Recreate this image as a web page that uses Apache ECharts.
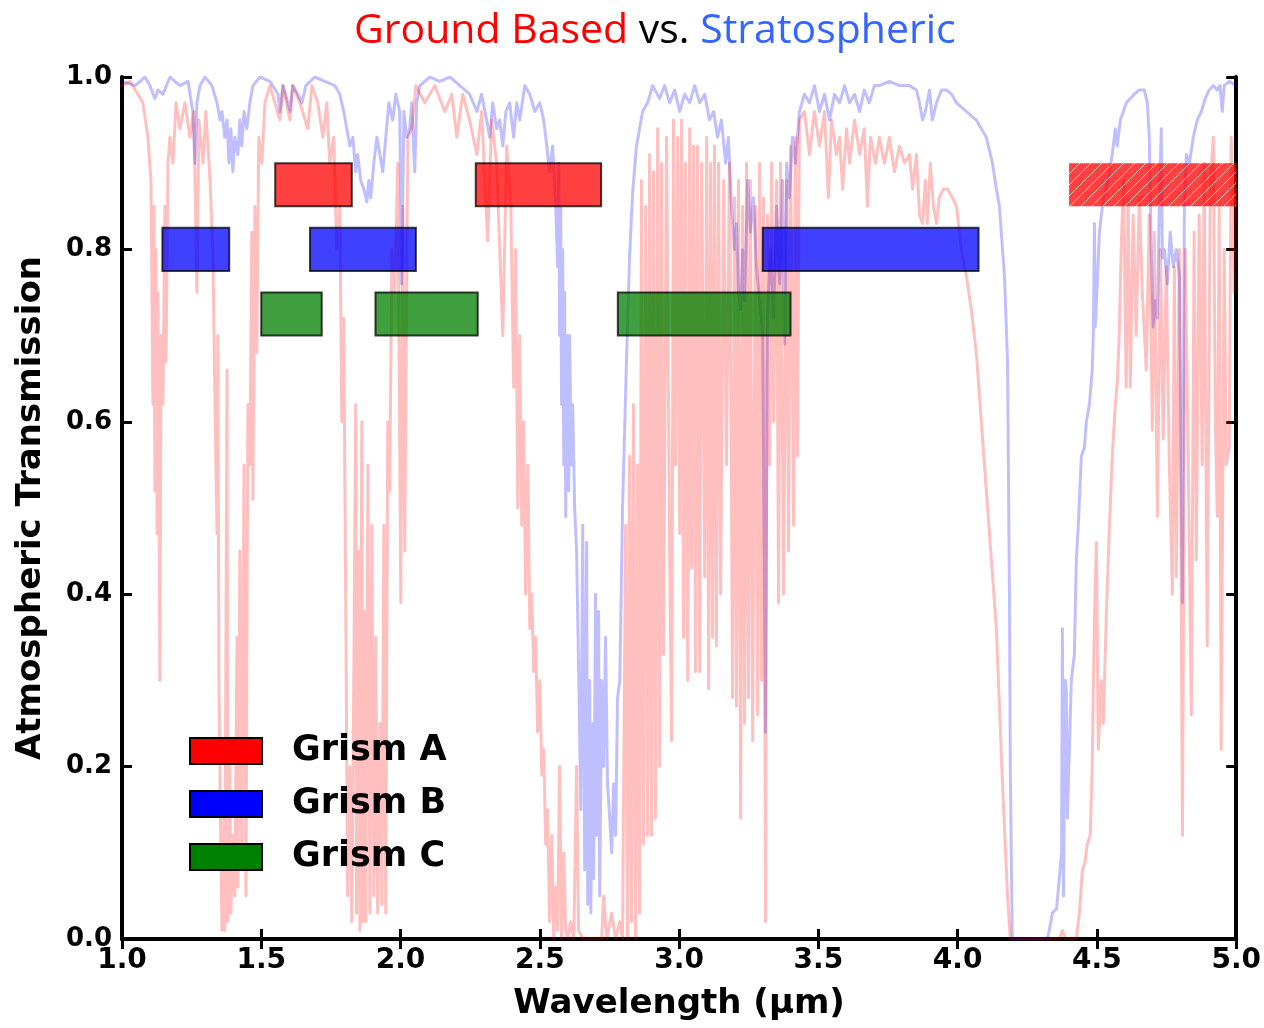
<!DOCTYPE html>
<html>
<head>
<meta charset="utf-8">
<title>Ground Based vs. Stratospheric</title>
<script src="https://cdn.jsdelivr.net/npm/echarts@6/dist/echarts.min.js"></script>
<style>
  html, body { margin: 0; padding: 0; background: #fff; }
  #chart { width: 1264px; height: 1028px; }
</style>
</head>
<body>
<div id="chart"></div>
<script>
// wavelength (um), transmission
const groundPoints = [
  [1.000,0.99],[1.029,0.995],[1.057,0.98],[1.075,0.97],[1.093,0.93],[1.104,0.88],[1.111,0.62],[1.115,0.85],
  [1.118,0.52],[1.122,0.80],[1.126,0.47],[1.129,0.75],[1.136,0.30],[1.140,0.70],[1.147,0.62],[1.154,0.85],
  [1.158,0.67],[1.165,0.90],[1.172,0.93],[1.183,0.90],[1.194,0.97],[1.208,0.94],[1.226,0.97],[1.244,0.93],
  [1.258,0.96],[1.269,0.75],[1.276,0.95],[1.291,0.90],[1.301,0.96],[1.316,0.88],[1.326,0.80],[1.334,0.62],
  [1.341,0.47],[1.344,0.70],[1.348,0.30],[1.355,0.10],[1.359,0.01],[1.366,0.15],[1.369,0.01],[1.377,0.66],
  [1.380,0.02],[1.387,0.20],[1.391,0.03],[1.398,0.12],[1.405,0.05],[1.413,0.35],[1.416,0.06],[1.423,0.45],
  [1.430,0.09],[1.438,0.55],[1.445,0.05],[1.452,0.62],[1.459,0.55],[1.466,0.82],[1.470,0.51],[1.477,0.85],
  [1.484,0.68],[1.491,0.93],[1.502,0.90],[1.513,0.97],[1.531,0.99],[1.549,0.97],[1.567,0.95],[1.578,0.99],
  [1.603,0.95],[1.613,0.99],[1.639,0.97],[1.667,0.94],[1.682,0.99],[1.703,0.97],[1.721,0.93],[1.735,0.97],
  [1.746,0.90],[1.760,0.93],[1.771,0.80],[1.782,0.85],[1.789,0.60],[1.796,0.72],[1.803,0.40],[1.810,0.05],
  [1.818,0.20],[1.825,0.02],[1.832,0.30],[1.839,0.62],[1.842,0.03],[1.850,0.45],[1.854,0.01],[1.861,0.60],
  [1.864,0.02],[1.872,0.38],[1.875,0.02],[1.883,0.55],[1.890,0.03],[1.897,0.48],[1.904,0.05],[1.911,0.35],
  [1.918,0.03],[1.926,0.25],[1.933,0.04],[1.940,0.48],[1.947,0.03],[1.954,0.60],[1.961,0.52],[1.969,0.80],
  [1.979,0.75],[1.990,0.90],[2.001,0.39],[2.008,0.85],[2.015,0.45],[2.026,0.93],[2.040,0.94],[2.055,0.99],
  [2.087,0.97],[2.123,0.99],[2.159,0.96],[2.184,0.98],[2.202,0.93],[2.223,0.98],[2.248,0.95],[2.274,0.91],
  [2.291,0.96],[2.313,0.81],[2.327,0.95],[2.345,0.90],[2.367,0.70],[2.381,0.92],[2.396,0.85],[2.406,0.64],
  [2.413,0.80],[2.421,0.50],[2.428,0.70],[2.435,0.48],[2.442,0.60],[2.449,0.40],[2.457,0.55],[2.464,0.36],
  [2.471,0.40],[2.478,0.31],[2.485,0.35],[2.492,0.24],[2.500,0.30],[2.507,0.19],[2.514,0.22],[2.521,0.11],
  [2.528,0.15],[2.535,0.02],[2.543,0.12],[2.550,0.00],[2.557,0.06],[2.564,0.01],[2.571,0.20],[2.578,0.00],
  [2.586,0.10],[2.593,0.01],[2.600,0.00],[2.611,0.02],[2.622,0.00],[2.632,0.20],[2.639,0.01],[2.654,0.00],
  [2.722,0.00],[2.729,0.05],[2.740,0.00],[2.758,0.03],[2.772,0.00],[2.787,0.02],[2.797,0.00],[2.808,0.48],
  [2.815,0.00],[2.822,0.56],[2.829,0.02],[2.836,0.62],[2.844,0.00],[2.851,0.55],[2.858,0.03],[2.865,0.88],
  [2.872,0.11],[2.880,0.85],[2.887,0.12],[2.894,0.91],[2.901,0.12],[2.908,0.89],[2.915,0.14],[2.923,0.94],
  [2.930,0.20],[2.937,0.90],[2.944,0.33],[2.955,0.93],[2.966,0.45],[2.973,0.23],[2.980,0.95],[2.987,0.55],
  [2.995,0.93],[3.002,0.47],[3.009,0.95],[3.016,0.35],[3.023,0.90],[3.031,0.30],[3.038,0.94],[3.045,0.43],
  [3.052,0.92],[3.059,0.31],[3.066,0.92],[3.074,0.31],[3.081,0.90],[3.092,0.42],[3.099,0.93],[3.106,0.29],
  [3.113,0.90],[3.120,0.35],[3.127,0.92],[3.134,0.34],[3.142,0.90],[3.149,0.40],[3.160,0.88],[3.170,0.55],
  [3.181,0.90],[3.192,0.28],[3.199,0.86],[3.206,0.27],[3.213,0.88],[3.221,0.14],[3.228,0.85],[3.235,0.25],
  [3.242,0.90],[3.249,0.28],[3.256,0.88],[3.264,0.23],[3.274,0.85],[3.282,0.26],[3.289,0.90],[3.296,0.30],
  [3.303,0.86],[3.310,0.02],[3.317,0.84],[3.325,0.55],[3.332,0.90],[3.339,0.60],[3.350,0.88],[3.357,0.39],
  [3.364,0.90],[3.375,0.40],[3.386,0.88],[3.393,0.45],[3.400,0.92],[3.411,0.48],[3.418,0.93],[3.425,0.56],
  [3.432,0.95],[3.450,0.96],[3.468,0.91],[3.486,0.96],[3.504,0.92],[3.522,0.96],[3.536,0.86],[3.547,0.95],
  [3.565,0.91],[3.576,0.93],[3.587,0.87],[3.601,0.94],[3.612,0.90],[3.630,0.95],[3.648,0.91],[3.665,0.94],
  [3.676,0.85],[3.687,0.93],[3.705,0.90],[3.719,0.93],[3.737,0.90],[3.755,0.93],[3.773,0.89],[3.791,0.92],
  [3.809,0.90],[3.827,0.91],[3.838,0.87],[3.852,0.91],[3.863,0.84],[3.874,0.83],[3.884,0.88],[3.891,0.83],
  [3.902,0.90],[3.913,0.85],[3.924,0.83],[3.934,0.86],[3.949,0.87],[3.963,0.87],[3.981,0.86],[3.996,0.85],
  [4.013,0.80],[4.031,0.77],[4.049,0.73],[4.067,0.68],[4.085,0.60],[4.103,0.52],[4.121,0.44],[4.139,0.36],
  [4.161,0.18],[4.179,0.05],[4.189,0.00],[4.365,0.00],[4.376,0.01],[4.387,0.00],[4.426,0.00],[4.437,0.03],
  [4.448,0.08],[4.458,0.09],[4.465,0.11],[4.476,0.12],[4.483,0.20],[4.491,0.37],[4.498,0.46],[4.505,0.22],
  [4.516,0.30],[4.523,0.25],[4.534,0.38],[4.545,0.48],[4.555,0.56],[4.566,0.62],[4.573,0.645],[4.580,0.70],
  [4.587,0.80],[4.595,0.88],[4.605,0.64],[4.612,0.86],[4.620,0.64],[4.630,0.84],[4.641,0.70],[4.652,0.86],
  [4.663,0.75],[4.677,0.66],[4.688,0.84],[4.699,0.59],[4.706,0.82],[4.717,0.49],[4.728,0.80],[4.738,0.58],
  [4.749,0.78],[4.760,0.55],[4.771,0.40],[4.778,0.78],[4.785,0.42],[4.796,0.80],[4.807,0.12],[4.817,0.80],
  [4.828,0.55],[4.839,0.26],[4.849,0.82],[4.857,0.44],[4.867,0.84],[4.878,0.55],[4.885,0.90],[4.896,0.34],
  [4.907,0.88],[4.918,0.93],[4.925,0.60],[4.932,0.49],[4.939,0.85],[4.946,0.22],[4.957,0.80],[4.964,0.55],
  [4.975,0.57],[4.982,0.93],[4.993,0.75],[5.000,0.90]
];

const stratPoints = [
  [1.000,0.995],[1.047,0.99],[1.083,1.0],[1.100,0.99],[1.118,0.975],[1.129,0.985],[1.147,0.98],[1.172,1.0],
  [1.208,0.99],[1.237,0.995],[1.254,0.96],[1.262,0.90],[1.269,0.97],[1.280,0.99],[1.298,1.0],[1.323,0.99],
  [1.341,0.97],[1.352,0.95],[1.359,0.96],[1.369,0.93],[1.377,0.95],[1.384,0.90],[1.391,0.94],[1.398,0.89],
  [1.405,0.93],[1.416,0.91],[1.423,0.95],[1.430,0.92],[1.438,0.96],[1.448,0.94],[1.459,0.97],[1.470,0.99],
  [1.495,1.0],[1.531,0.995],[1.560,0.98],[1.567,0.96],[1.578,0.99],[1.596,0.97],[1.603,0.96],[1.613,0.99],
  [1.631,0.98],[1.646,0.97],[1.660,0.99],[1.692,1.0],[1.728,0.995],[1.764,0.99],[1.782,0.98],[1.796,0.96],
  [1.807,0.94],[1.818,0.92],[1.829,0.93],[1.839,0.89],[1.846,0.91],[1.857,0.88],[1.868,0.87],[1.879,0.855],
  [1.886,0.88],[1.893,0.86],[1.904,0.90],[1.915,0.93],[1.926,0.91],[1.936,0.89],[1.947,0.93],[1.958,0.97],
  [1.972,0.95],[1.983,0.98],[1.997,0.96],[2.004,0.76],[2.012,0.96],[2.022,0.93],[2.033,0.94],[2.040,0.97],
  [2.051,0.89],[2.058,0.97],[2.069,0.99],[2.105,1.0],[2.141,0.995],[2.177,1.0],[2.213,0.99],[2.248,0.98],
  [2.274,0.96],[2.291,0.98],[2.309,0.95],[2.320,0.93],[2.331,0.97],[2.345,0.94],[2.356,0.95],[2.367,0.92],
  [2.378,0.96],[2.392,0.97],[2.406,0.93],[2.417,0.97],[2.428,0.95],[2.446,0.99],[2.464,0.98],[2.482,0.96],
  [2.500,0.97],[2.514,0.95],[2.525,0.92],[2.535,0.89],[2.546,0.92],[2.557,0.85],[2.564,0.78],[2.568,0.90],
  [2.571,0.70],[2.575,0.85],[2.578,0.62],[2.582,0.80],[2.586,0.55],[2.589,0.75],[2.593,0.49],[2.597,0.70],
  [2.600,0.62],[2.604,0.52],[2.607,0.70],[2.611,0.60],[2.614,0.55],[2.618,0.62],[2.625,0.50],[2.632,0.45],
  [2.640,0.30],[2.647,0.15],[2.654,0.48],[2.661,0.08],[2.668,0.46],[2.672,0.04],[2.679,0.30],[2.683,0.03],
  [2.690,0.25],[2.693,0.07],[2.700,0.40],[2.704,0.12],[2.711,0.38],[2.715,0.05],[2.722,0.30],[2.729,0.20],
  [2.736,0.35],[2.743,0.18],[2.751,0.14],[2.758,0.10],[2.765,0.18],[2.772,0.12],[2.779,0.28],[2.787,0.30],
  [2.797,0.50],[2.811,0.67],[2.822,0.79],
  [2.833,0.865],[2.847,0.92],[2.869,0.96],[2.887,0.97],[2.905,0.99],[2.930,0.975],[2.948,0.99],[2.966,0.97],
  [2.984,0.985],[3.002,0.96],[3.020,0.98],[3.038,0.97],[3.056,0.99],[3.074,0.97],[3.092,0.98],[3.109,0.95],
  [3.124,0.96],[3.138,0.93],[3.152,0.95],[3.167,0.90],[3.177,0.93],[3.188,0.85],[3.199,0.80],[3.206,0.83],
  [3.213,0.75],[3.221,0.73],[3.228,0.80],[3.235,0.74],[3.246,0.88],[3.256,0.82],[3.267,0.86],[3.278,0.78],
  [3.289,0.74],[3.300,0.70],[3.310,0.24],[3.317,0.72],[3.328,0.80],[3.339,0.72],[3.350,0.85],[3.361,0.76],
  [3.371,0.88],[3.379,0.69],[3.386,0.90],[3.396,0.86],[3.407,0.93],[3.418,0.90],[3.432,0.96],[3.450,0.98],
  [3.468,0.97],[3.486,0.99],[3.504,0.96],[3.522,0.98],[3.540,0.95],[3.558,0.98],[3.576,0.97],[3.594,0.99],
  [3.612,0.97],[3.630,0.98],[3.648,0.96],[3.665,0.985],[3.683,0.97],[3.701,0.99],[3.719,0.99],[3.755,0.995],
  [3.791,0.99],[3.827,0.99],[3.852,0.985],[3.863,0.97],[3.874,0.95],[3.884,0.96],[3.899,0.985],[3.909,0.95],
  [3.924,0.97],[3.942,0.985],[3.960,0.985],[3.978,0.98],[3.996,0.97],[4.013,0.965],[4.031,0.96],[4.049,0.955],
  [4.067,0.95],[4.085,0.94],[4.103,0.93],[4.125,0.90],[4.139,0.87],[4.150,0.85],[4.161,0.80],[4.168,0.77],
  [4.179,0.67],[4.186,0.40],[4.189,0.20],[4.196,0.00],[4.322,0.00],[4.329,0.01],[4.340,0.03],[4.355,0.035],
  [4.362,0.06],[4.373,0.10],[4.376,0.36],[4.380,0.05],[4.383,0.19],[4.387,0.30],[4.390,0.29],[4.394,0.14],
  [4.401,0.22],[4.408,0.30],[4.419,0.33],[4.426,0.44],[4.433,0.48],[4.444,0.56],[4.455,0.57],[4.462,0.60],
  [4.473,0.62],[4.483,0.66],[4.487,0.70],[4.491,0.83],[4.494,0.71],[4.501,0.76],[4.509,0.82],[4.523,0.86],
  [4.534,0.87],[4.545,0.89],[4.555,0.91],[4.566,0.94],[4.573,0.92],[4.584,0.95],[4.595,0.96],[4.605,0.97],
  [4.620,0.975],[4.634,0.98],[4.652,0.985],[4.670,0.985],[4.681,0.97],[4.688,0.93],[4.695,0.80],[4.702,0.71],
  [4.710,0.74],[4.717,0.72],[4.724,0.85],[4.731,0.94],[4.735,0.79],[4.742,0.80],[4.753,0.76],[4.763,0.82],
  [4.774,0.78],[4.785,0.80],[4.796,0.77],[4.807,0.39],[4.814,0.85],[4.821,0.91],[4.832,0.90],[4.846,0.93],
  [4.860,0.95],[4.875,0.96],[4.889,0.975],[4.903,0.985],[4.918,0.99],[4.932,0.985],[4.942,0.99],[4.950,0.96],
  [4.957,0.99],[4.975,0.995],[5.000,0.99]
];

// grism coverage: [start um, end um]
const grismA = [[1.55, 1.825], [2.27, 2.72]];
const grismAFuture = [[4.40, 5.00]];
const grismB = [[1.145, 1.385], [1.675, 2.055], [3.30, 4.075]];
const grismC = [[1.50, 1.717], [1.91, 2.277], [2.78, 3.40]];
const grismRows = { A: [0.85, 0.90], B: [0.775, 0.825], C: [0.70, 0.75] };

const xTicks = [1.0, 1.5, 2.0, 2.5, 3.0, 3.5, 4.0, 4.5, 5.0];
const yTicks = [0.0, 0.2, 0.4, 0.6, 0.8, 1.0];

const chart = echarts.init(document.getElementById("chart"));

// diagonal hatch for the planned Grism A range
const hatch = document.createElement("canvas");
hatch.width = 11;
hatch.height = 11;
(function () {
  const c = hatch.getContext("2d");
  c.fillStyle = "rgba(255,0,0,0.75)";
  c.fillRect(0, 0, 11, 11);
  c.strokeStyle = "rgba(255,255,255,0.7)";
  c.lineWidth = 1;
  c.beginPath();
  c.moveTo(0, 11); c.lineTo(11, 0);
  c.moveTo(-2, 2); c.lineTo(2, -2);
  c.moveTo(9, 13); c.lineTo(13, 9);
  c.stroke();
})();

const toBoxes = (ranges, row) => ranges.map((r) => [r[0], r[1], row[0], row[1]]);

const boxRenderer = (fill, stroke) => (params, api) => {
  const p0 = api.coord([api.value(0), api.value(3)]);
  const p1 = api.coord([api.value(1), api.value(2)]);
  return {
    type: "rect",
    shape: { x: p0[0], y: p0[1], width: p1[0] - p0[0], height: p1[1] - p0[1] },
    style: { fill: fill, stroke: stroke, lineWidth: stroke ? 2 : 0 },
  };
};

const boldFont = "DejaVu Sans";
const titleStyle = (color) => ({ color: color, fontSize: 41, fontWeight: "normal", fontFamily: "Open Sans" });

const option = {
  animation: false,
  title: {
    text: "{r|Ground Based }{k|vs. }{b|Stratospheric}",
    left: 349,
    top: 6,
    textStyle: {
      fontWeight: "normal",
      rich: {
        r: titleStyle("#ff0000"),
        k: titleStyle("#000000"),
        b: titleStyle("#3366ff"),
      },
    },
  },
  legend: {
    orient: "vertical",
    left: 184,
    top: 728,
    itemWidth: 72,
    itemHeight: 26,
    itemGap: 17,
    icon: "rect",
    selectedMode: false,
    itemStyle: { borderColor: "#000", borderWidth: 2 },
    textStyle: {
      fontFamily: boldFont,
      fontWeight: "bold",
      fontSize: 35,
      lineHeight: 36,
      color: "#000",
      padding: [0, 0, 0, 25],
    },
    data: ["Grism A", "Grism B", "Grism C"],
  },
  grid: { left: 122, right: 27, top: 77, bottom: 89 },
  xAxis: [
    {
      type: "value",
      min: 1,
      max: 5,
      interval: 0.5,
      name: "Wavelength (\u03bcm)",
      nameLocation: "middle",
      nameGap: 48,
      nameTextStyle: { fontFamily: boldFont, fontWeight: "bold", fontSize: 34, color: "#000" },
      axisLine: { lineStyle: { color: "#000", width: 4 } },
      axisTick: { inside: true, length: 10, lineStyle: { color: "#000", width: 3 } },
      axisLabel: {
        margin: 8,
        fontFamily: boldFont,
        fontWeight: "bold",
        fontSize: 28,
        color: "#000",
        formatter: (v) => (xTicks.includes(v) ? v.toFixed(1) : ""),
      },
      splitLine: { show: false },
    },
    {
      type: "value",
      position: "top",
      min: 1,
      max: 5,
      interval: 0.5,
      axisLine: { lineStyle: { color: "#000", width: 4 } },
      axisTick: { inside: true, length: 10, lineStyle: { color: "#000", width: 3 } },
      axisLabel: { show: false },
      splitLine: { show: false },
    },
  ],
  yAxis: [
    {
      type: "value",
      min: 0,
      max: 1,
      interval: 0.2,
      name: "Atmospheric Transmission",
      nameLocation: "middle",
      nameGap: 74,
      nameTextStyle: { fontFamily: boldFont, fontWeight: "bold", fontSize: 34, color: "#000" },
      axisLine: { lineStyle: { color: "#000", width: 4 } },
      axisTick: { inside: true, length: 10, lineStyle: { color: "#000", width: 3 } },
      axisLabel: {
        margin: 10,
        fontFamily: boldFont,
        fontWeight: "bold",
        fontSize: 26,
        color: "#000",
        formatter: (v) => (yTicks.some((t) => Math.abs(t - v) < 1e-9) ? v.toFixed(1) : ""),
      },
      splitLine: { show: false },
    },
    {
      type: "value",
      position: "right",
      min: 0,
      max: 1,
      interval: 0.2,
      axisLine: { lineStyle: { color: "#000", width: 4 } },
      axisTick: { inside: true, length: 10, lineStyle: { color: "#000", width: 3 } },
      axisLabel: { show: false },
      splitLine: { show: false },
    },
  ],
  series: [
    {
      name: "Stratospheric",
      type: "line",
      data: stratPoints,
      showSymbol: false,
      silent: true,
      z: 1,
      lineStyle: { color: "rgba(0,0,255,0.25)", width: 3, cap: "round", join: "round" },
    },
    {
      name: "Ground Based",
      type: "line",
      data: groundPoints,
      showSymbol: false,
      silent: true,
      z: 2,
      lineStyle: { color: "rgba(255,0,0,0.25)", width: 3, cap: "round", join: "round" },
    },
    {
      name: "Grism A",
      type: "custom",
      z: 5,
      itemStyle: { color: "#ff0000" },
      renderItem: boxRenderer("rgba(255,0,0,0.75)", "rgba(0,0,0,0.75)"),
      encode: { x: [0, 1], y: [2, 3] },
      data: toBoxes(grismA, grismRows.A),
    },
    {
      name: "Grism A (planned)",
      type: "custom",
      z: 5,
      renderItem: boxRenderer({ image: hatch, repeat: "repeat" }, null),
      encode: { x: [0, 1], y: [2, 3] },
      data: toBoxes(grismAFuture, grismRows.A),
    },
    {
      name: "Grism B",
      type: "custom",
      z: 5,
      itemStyle: { color: "#0000ff" },
      renderItem: boxRenderer("rgba(0,0,255,0.75)", "rgba(0,0,0,0.75)"),
      encode: { x: [0, 1], y: [2, 3] },
      data: toBoxes(grismB, grismRows.B),
    },
    {
      name: "Grism C",
      type: "custom",
      z: 5,
      itemStyle: { color: "#008000" },
      renderItem: boxRenderer("rgba(0,128,0,0.75)", "rgba(0,0,0,0.75)"),
      encode: { x: [0, 1], y: [2, 3] },
      data: toBoxes(grismC, grismRows.C),
    },
  ],
};

chart.setOption(option);
</script>
</body>
</html>
